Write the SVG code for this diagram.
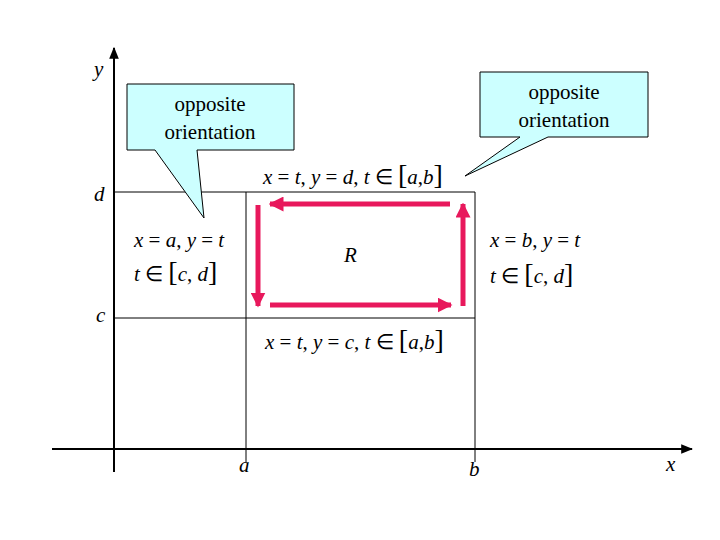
<svg xmlns="http://www.w3.org/2000/svg" width="720" height="540" viewBox="0 0 720 540">
<style>
.ax{stroke:#000;stroke-width:2;fill:none}
.g{stroke:#000;stroke-width:1;fill:none}
.m{font-family:"Liberation Serif",serif;font-size:21px;font-style:italic;fill:#000}
.n{font-family:"Liberation Serif",serif;font-size:21px;fill:#000}
.lb{font-family:"Liberation Serif",serif;font-size:21px;fill:#000;text-anchor:middle}
.cb{fill:#ccffff;stroke:#000;stroke-width:1}
.r{stroke:#e8185c;stroke-width:5;fill:none}
</style>
<defs>
<marker id="ar" viewBox="0 0 10 10" refX="9" refY="5" markerWidth="3" markerHeight="3" orient="auto"><path d="M0,0L10,5L0,10z" fill="#e8185c"/></marker>
<marker id="ak" viewBox="0 0 10 10" refX="9" refY="5" markerWidth="6" markerHeight="6" orient="auto"><path d="M0,1L10,5L0,9z" fill="#000"/></marker>
</defs>
<g id="axes">
<line class="ax" x1="114" y1="472" x2="114" y2="48" marker-end="url(#ak)"/>
<line class="ax" x1="52" y1="449" x2="692" y2="449" marker-end="url(#ak)"/>
<line class="g" x1="114" y1="192" x2="475" y2="192"/>
<line class="g" x1="114" y1="318" x2="475" y2="318"/>
<line class="g" x1="246" y1="192" x2="246" y2="462"/>
<line class="g" x1="475" y1="192" x2="475" y2="462"/>
<text class="m" x="94" y="76">y</text>
<text class="m" x="94" y="201">d</text>
<text class="m" x="96" y="322">c</text>
<text class="m" x="239" y="472">a</text>
<text class="m" x="469" y="476">b</text>
<text class="m" x="666" y="471">x</text>
<text class="m" x="344" y="262">R</text>
</g>
<g id="callout-left">
<path class="cb" d="M127,84H294V150H197L204,218L155,150H127Z"/>
<text class="lb" x="210" y="111">opposite</text>
<text class="lb" x="210" y="139">orientation</text>
</g>
<g id="callout-right">
<path class="cb" d="M480,72H648V137H548L465,176L520,137H480Z"/>
<text class="lb" x="564" y="99">opposite</text>
<text class="lb" x="564" y="127">orientation</text>
</g>
<g id="labels">
<text class="m" x="263" y="184">x <tspan font-style="normal">=</tspan> t<tspan font-style="normal">,</tspan> y <tspan font-style="normal">=</tspan> d<tspan font-style="normal">,</tspan> t <tspan font-style="normal">∈</tspan> <tspan font-style="normal" font-size="28">[</tspan>a<tspan font-style="normal">,</tspan>b<tspan font-style="normal" font-size="28">]</tspan></text>
<text class="m" x="265" y="349">x <tspan font-style="normal">=</tspan> t<tspan font-style="normal">,</tspan> y <tspan font-style="normal">=</tspan> c<tspan font-style="normal">,</tspan> t <tspan font-style="normal">∈</tspan> <tspan font-style="normal" font-size="28">[</tspan>a<tspan font-style="normal">,</tspan>b<tspan font-style="normal" font-size="28">]</tspan></text>
<text class="m" x="134" y="247">x <tspan font-style="normal">=</tspan> a<tspan font-style="normal">,</tspan> y <tspan font-style="normal">=</tspan> t</text>
<text class="m" x="134" y="281">t <tspan font-style="normal">∈</tspan> <tspan font-style="normal" font-size="28">[</tspan>c<tspan font-style="normal">,</tspan> d<tspan font-style="normal" font-size="28">]</tspan></text>
<text class="m" x="490" y="247">x <tspan font-style="normal">=</tspan> b<tspan font-style="normal">,</tspan> y <tspan font-style="normal">=</tspan> t</text>
<text class="m" x="490" y="283">t <tspan font-style="normal">∈</tspan> <tspan font-style="normal" font-size="28">[</tspan>c<tspan font-style="normal">,</tspan> d<tspan font-style="normal" font-size="28">]</tspan></text>
</g>
<g id="connectors">
<line class="r" x1="450" y1="204" x2="270" y2="204" marker-end="url(#ar)"/>
<line class="r" x1="463" y1="306" x2="463" y2="204" marker-end="url(#ar)"/>
<line class="r" x1="270" y1="305" x2="451" y2="305" marker-end="url(#ar)"/>
<line class="r" x1="258" y1="205" x2="258" y2="306" marker-end="url(#ar)"/>
</g>
</svg>
